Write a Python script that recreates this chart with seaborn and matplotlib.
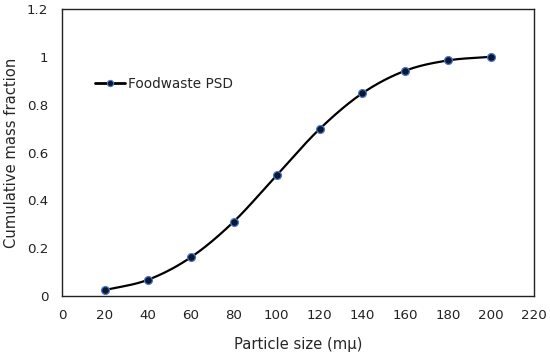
import numpy as np
import pandas as pd
import matplotlib
matplotlib.use("Agg")
import matplotlib.pyplot as plt
import seaborn as sns

# --------------------------------------------------
# Data
# --------------------------------------------------
particle_size = [20, 40, 60, 80, 100, 120, 140, 160, 180, 200]
mass_fraction = [0.025, 0.068, 0.162, 0.311, 0.505, 0.698, 0.848, 0.942, 0.985, 1.0]
x_ticks = [0, 20, 40, 60, 80, 100, 120, 140, 160, 180, 200, 220]
y_ticks = [0, 0.2, 0.4, 0.6, 0.8, 1.0, 1.2]
y_tick_labels = ["0", "0.2", "0.4", "0.6", "0.8", "1", "1.2"]

df = pd.DataFrame({"size": particle_size, "fraction": mass_fraction})


def smooth_line(x, y, n=30):
    # Catmull-Rom spline through the points (like Excel's smoothed line)
    x = np.asarray(x, float)
    y = np.asarray(y, float)
    px = np.concatenate([[2 * x[0] - x[1]], x, [2 * x[-1] - x[-2]]])
    py = np.concatenate([[2 * y[0] - y[1]], y, [2 * y[-1] - y[-2]]])
    t = np.linspace(0, 1, n)
    xs, ys = [], []
    for i in range(1, len(px) - 2):
        for p, out in ((px, xs), (py, ys)):
            p0, p1, p2, p3 = p[i - 1], p[i], p[i + 1], p[i + 2]
            out.append(0.5 * (2 * p1 + (-p0 + p2) * t
                              + (2 * p0 - 5 * p1 + 4 * p2 - p3) * t ** 2
                              + (-p0 + 3 * p1 - 3 * p2 + p3) * t ** 3))
    return np.concatenate(xs), np.concatenate(ys)


sns.set_style("white")
plt.rcParams["font.family"] = ["DejaVu Sans"]

fig, ax = plt.subplots(figsize=(5.5, 3.58), dpi=100)
fig.subplots_adjust(left=0.113, right=0.971, top=0.975, bottom=0.173)

sx, sy = smooth_line(df["size"], df["fraction"])
ax.plot(sx, sy, color="black", linewidth=1.6, zorder=2)
sns.scatterplot(data=df, x="size", y="fraction", ax=ax, s=32,
                color="#0b1633", edgecolor="#4a78c8", linewidth=0.9, zorder=3)

# legend handle: line + marker
ax.plot([], [], color="black", linewidth=2.0, marker="o", markersize=4.5,
        markerfacecolor="#0b1633", markeredgecolor="#4a78c8",
        markeredgewidth=0.8, label="Foodwaste PSD")
ax.legend(loc="center left", bbox_to_anchor=(0.07, 0.739), frameon=False,
          fontsize=9.8, handlelength=2.2, handletextpad=0.2,
          borderaxespad=0, borderpad=0)

ax.set_xlim(0, 220)
ax.set_ylim(0, 1.2)
ax.set_xticks(x_ticks)
ax.set_yticks(y_ticks)
ax.set_yticklabels(y_tick_labels)
ax.tick_params(axis="both", length=0, labelsize=9.6, colors="#222222")
ax.tick_params(axis="x", pad=9)
ax.tick_params(axis="y", pad=10)

for sp in ax.spines.values():
    sp.set_visible(True)
    sp.set_color("#222222")
    sp.set_linewidth(1.0)

ax.set_xlabel("Particle size (mµ)", fontsize=10.6, labelpad=11)
ax.set_ylabel("Cumulative mass fraction", fontsize=10.6, labelpad=6)

fig.savefig("out.png", dpi=100)
